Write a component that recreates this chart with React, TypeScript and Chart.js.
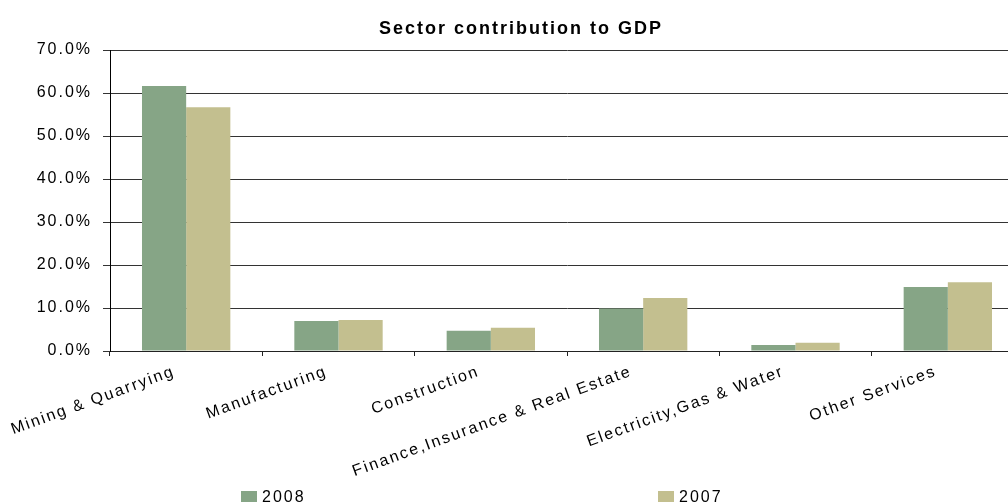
import { useEffect, useRef } from "react";
import { Chart, registerables } from "chart.js";

Chart.register(...registerables);

const categories = [
  "Mining & Quarrying",
  "Manufacturing",
  "Construction",
  "Finance,Insurance & Real Estate",
  "Electricity,Gas & Water",
  "Other Services",
];
const values2008 = [61.6, 7.0, 4.7, 9.9, 1.4, 14.9];
const values2007 = [56.7, 7.2, 5.4, 12.3, 1.9, 16.0];
const seriesLabels = ["2008", "2007"];
const seriesColors = ["#86A586", "#C3BF8F"];
const yMin = 0;
const yMax = 70;
const yStep = 10;
const titleText = "Sector contribution to GDP";

const FONT = "'Liberation Sans', Arial, Helvetica, sans-serif";
const SPACING = "2px";

const spacingPlugin = {
  id: "letterSpacing",
  beforeUpdate(chart: any) {
    chart.ctx.letterSpacing = SPACING;
  },
  beforeDraw(chart: any) {
    chart.ctx.letterSpacing = SPACING;
  },
};

const legendPlugin = {
  id: "bottomLegend",
  afterDraw(chart: any) {
    const ctx = chart.ctx;
    const xs = [241, 658];
    ctx.save();
    ctx.font = `16px ${FONT}`;
    ctx.textBaseline = "alphabetic";
    ctx.textAlign = "left";
    chart.data.datasets.forEach((ds: any, i: number) => {
      ctx.fillStyle = ds.backgroundColor;
      ctx.fillRect(xs[i], 491, 16, 11);
      ctx.fillStyle = "#000";
      ctx.fillText(ds.label, xs[i] + 21, 502);
    });
    ctx.restore();
  },
};

export default function App() {
  const ref = useRef<HTMLCanvasElement | null>(null);

  useEffect(() => {
    if (!ref.current) return;
    const chart = new Chart(ref.current, {
      type: "bar",
      data: {
        labels: categories,
        datasets: [
          {
            label: seriesLabels[0],
            data: values2008,
            backgroundColor: seriesColors[0],
            borderWidth: 0,
          },
          {
            label: seriesLabels[1],
            data: values2007,
            backgroundColor: seriesColors[1],
            borderWidth: 0,
          },
        ],
      },
      options: {
        responsive: false,
        animation: false,
        devicePixelRatio: 1,
        layout: { padding: { left: 18, right: 0, top: 0, bottom: 0 } },
        datasets: {
          bar: { categoryPercentage: 0.58, barPercentage: 1 },
        },
        plugins: {
          legend: { display: false },
          tooltip: { enabled: false },
          title: {
            display: true,
            text: titleText,
            color: "#000",
            font: { family: FONT, size: 18, weight: "bold" },
            padding: { top: 18, bottom: 10.4 },
          },
        },
        scales: {
          x: {
            offset: true,
            grid: {
              offset: true,
              drawOnChartArea: false,
              drawTicks: true,
              tickLength: 5,
              color: "#222",
            },
            border: { display: true, color: "#222", width: 1 },
            ticks: {
              autoSkip: false,
              minRotation: 20,
              maxRotation: 20,
              color: "#000",
              padding: 6,
              labelOffset: -12,
              font: { family: FONT, size: 16 },
            },
            afterFit: (scale: any) => {
              scale.height = 151;
            },
          },
          y: {
            min: yMin,
            max: yMax,
            grid: {
              color: "#333",
              drawTicks: true,
              tickLength: 7,
            },
            border: { display: true, color: "#000", width: 1 },
            ticks: {
              stepSize: yStep,
              color: "#000",
              padding: 11,
              font: { family: FONT, size: 16 },
              callback: (v: any) => Number(v).toFixed(1) + "%",
            },
            afterFit: (scale: any) => {
              scale.width = 92;
            },
          },
        },
      },
      plugins: [spacingPlugin, legendPlugin],
    });
    return () => chart.destroy();
  }, []);

  return (
    <div
      style={{
        position: "fixed",
        left: 0,
        top: 0,
        width: 1008,
        height: 502,
        overflow: "hidden",
        background: "#fff",
      }}
    >
      <canvas
        ref={ref}
        width={1024}
        height={502}
        style={{ display: "block", width: 1024, height: 502 }}
      />
    </div>
  );
}
